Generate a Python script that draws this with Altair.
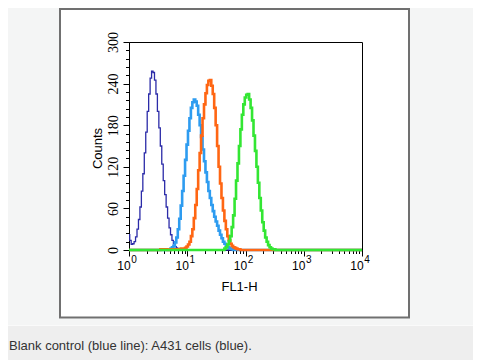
import altair as alt
import pandas as pd

# ---------------- data ----------------
BIN = 0.025  # histogram channel width, in decades of FL1-H
N_CHANNELS = 161  # 10^0 .. 10^4

series_names = ["Blank control", "A431 cells (blue)", "A431 cells (orange)", "A431 cells (green)"]
series_colors = ["#2b2ba8", "#2e9cf0", "#ff6613", "#33e633"]

dark_blue_start = 0.000
dark_blue_counts = [22, 14, 8, 9, 12, 19, 30, 44, 62, 85, 110, 140, 170, 200, 225, 248, 258, 256,
                    245, 225, 200, 176, 150, 124, 100, 80, 62, 46, 32, 22, 14, 9, 5, 3, 2, 1, 1]

light_blue_start = 0.725
light_blue_counts = [2, 4, 6, 11, 18, 30, 45, 64, 85, 107, 130, 152, 172, 190, 205, 213, 217, 214,
                     208, 195, 180, 163, 145, 128, 112, 98, 85, 75, 65, 56, 48, 41, 35, 28, 22, 17,
                     12, 9, 6, 4, 3, 2, 1]

orange_start = 0.550
orange_counts = [1, 1, 1, 1, 1, 0, 0, 1, 1, 1, 1, 1, 1, 1, 2, 2, 2, 3, 5, 8, 12, 20, 30, 46, 65, 88,
                 115, 140, 165, 190, 210, 226, 238, 244, 245, 237, 225, 205, 180, 150, 120, 96, 75,
                 57, 42, 30, 20, 14, 9, 6, 4, 3, 2, 1, 1]

green_start = 1.650
green_counts = [2, 4, 8, 13, 20, 33, 50, 74, 100, 125, 150, 174, 195, 210, 220, 224, 225, 217, 205,
                187, 165, 143, 120, 97, 75, 57, 40, 28, 18, 12, 7, 4, 2, 1, 1]

x_major_ticks = [1, 10, 100, 1000, 10000]
x_tick_base = "10"
x_tick_exponents = ["0", "1", "2", "3", "4"]
x_minor_ticks = [m * 10 ** k for k in range(4) for m in range(2, 10)]
y_major_ticks = [0, 60, 120, 180, 240, 300]
y_minor_ticks = [v for v in range(0, 301, 12) if v % 60 != 0]

caption = "Blank control (blue line): A431 cells (blue)."

# ---------------- table ----------------
series = [
    (series_names[0], dark_blue_start, dark_blue_counts),
    (series_names[1], light_blue_start, light_blue_counts),
    (series_names[2], orange_start, orange_counts),
    (series_names[3], green_start, green_counts),
]
rows = []
for name, start, counts in series:
    off = round(start / BIN)
    for i in range(N_CHANNELS):
        j = i - off
        c = counts[j] if 0 <= j < len(counts) else 0
        rows.append({"series": name, "fl1": 10 ** (i * BIN), "count": c})
df = pd.DataFrame(rows)

FONT = "Liberation Sans"
xscale = alt.Scale(type="log", domain=[1, 10000], nice=False)
yscale = alt.Scale(domain=[0, 300], nice=False, zero=True)

base = alt.Chart(df)
one = pd.DataFrame({"k": [0]})

# ---------------- decorations (page frame, caption band) ----------------
def strip(x1, x2, y1, y2, color):
    return alt.Chart(one).mark_rect(color=color, strokeWidth=0).encode(
        x=alt.value(x1), x2=alt.value(x2), y=alt.value(y1), y2=alt.value(y2))

light = "#f4f5f5"
left_strip = strip(-121, -70, -34, 283, light)
right_strip = strip(281, 344, -34, 283, light)
bottom_strip = strip(-121, 344, 276.5, 283, light)
band = strip(-121, 344, 283.5, 318, "#eeeeee")
sep = strip(-121, 344, 283, 284, "#fafafa")
frame = alt.Chart(one).mark_rect(fill=None, stroke="#707070", strokeWidth=2).encode(
    x=alt.value(-69), x2=alt.value(280), y=alt.value(-33), y2=alt.value(275.5))
cap = alt.Chart(one).mark_text(
    text=caption, align="left", baseline="alphabetic", font=FONT, fontSize=13, color="#333333"
).encode(x=alt.value(-120), y=alt.value(308))

# ---------------- minor tick axes ----------------
minor = base.mark_point(opacity=0).encode(
    x=alt.X("fl1:Q", scale=xscale, axis=alt.Axis(
        values=x_minor_ticks, orient="bottom", labels=False, domain=False, grid=False,
        title=None, tickSize=3.5, tickColor="black", tickWidth=1)),
    y=alt.Y("count:Q", scale=yscale, axis=alt.Axis(
        values=y_minor_ticks, orient="left", labels=False, domain=False, grid=False,
        title=None, tickSize=3.5, tickColor="black", tickWidth=1)),
)

# ---------------- superscript exponents of the decade labels ----------------
exp_expr = str(x_tick_exponents) + "[round(log(datum.value)/LN10)]"
exponents = base.mark_point(opacity=0).encode(
    x=alt.X("fl1:Q", scale=xscale, axis=alt.Axis(
        values=x_major_ticks, orient="bottom", labelExpr=exp_expr, domain=False, grid=False,
        ticks=False, tickSize=0, labelPadding=4, labelOffset=4.5, labelBaseline="top",
        labelAlign="center", labelFont=FONT, labelFontSize=10, labelColor="black",
        labelFlush=False, labelOverlap=False, title=None)),
)

# ---------------- histogram lines ----------------
layers = []
for k, name in enumerate(series_names):
    if k == 0:
        xenc = alt.X("fl1:Q", scale=xscale, axis=alt.Axis(
            values=x_major_ticks, orient="bottom", labelExpr=f"'{x_tick_base}'", grid=False,
            tickSize=6, tickColor="black", domainColor="black", labelColor="black",
            labelFont=FONT, labelFontSize=12, labelPadding=4, labelOffset=-5.5, labelFlush=False,
            labelBaseline="top", labelAlign="center",
            labelOverlap=False, title="FL1-H", titleFont=FONT, titleFontSize=13,
            titleFontWeight="normal", titleColor="black", titleX=110, titleY=40,
            titleBaseline="alphabetic", titleAlign="center"))
        yenc = alt.Y("count:Q", scale=yscale, axis=alt.Axis(
            values=y_major_ticks, orient="left", grid=False, tickSize=6, tickColor="black",
            domainColor="black", labelColor="black", labelFont="Liberation Sans Narrow",
            labelFontSize=14, labelAngle=270, labelAlign="center", labelBaseline="alphabetic",
            labelPadding=6, labelFlush=False, labelOverlap=False,
            title="Counts", titleFont=FONT, titleFontSize=13, titleFontWeight="normal",
            titleColor="black", titleAngle=270, titleX=-28, titleY=106,
            titleBaseline="alphabetic", titleAlign="center"))
    else:
        xenc = alt.X("fl1:Q", scale=xscale, axis=None)
        yenc = alt.Y("count:Q", scale=yscale, axis=None)
    layers.append(
        base.transform_filter(alt.datum.series == name)
        .mark_line(interpolate="step", color=series_colors[k],
                   strokeWidth=1.3 if k == 0 else 2.6)
        .encode(x=xenc, y=yenc)
    )

chart = alt.layer(
    left_strip, right_strip, bottom_strip, band, sep, frame, cap, minor, exponents, *layers
).resolve_axis(x="independent", y="independent").properties(
    width=233, height=208,
    autosize=alt.AutoSizeParams(type="none"),
    padding={"left": 121, "top": 34, "right": 111, "bottom": 110},
    background="white",
).configure_view(stroke="black", strokeWidth=1)

chart.save("out.html", embed_options={"renderer": "svg", "actions": False})
